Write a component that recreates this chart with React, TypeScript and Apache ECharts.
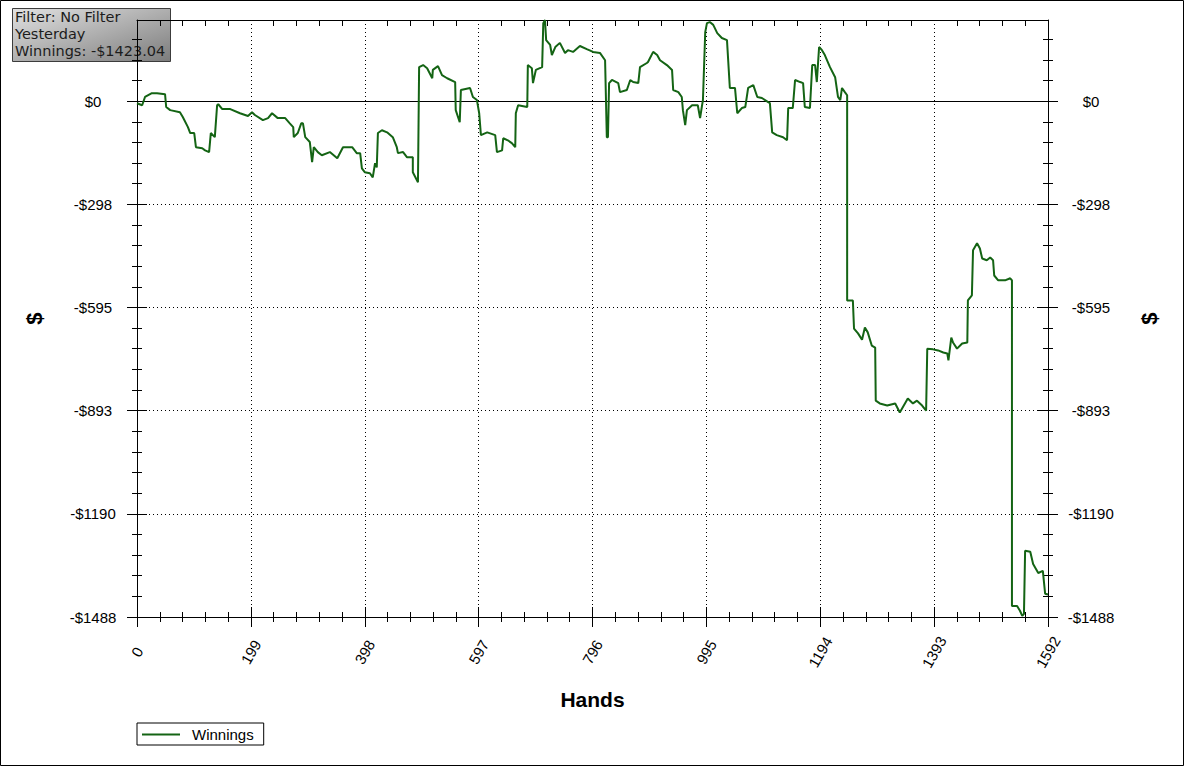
import React, { useEffect, useRef } from "react";
import * as echarts from "echarts";

// ---- Data ----
const infoLines = ["Filter: No Filter", "Yesterday", "Winnings: -$1423.04"];
const seriesName = "Winnings";
const xName = "Hands";
const yName = "$";

const X_MIN = 0;
const X_MAX = 1592;
const X_INTERVAL = 199;

const Y_MIN = -1488;
const Y_MAX = 234;
const Y_MINOR_STEP = 59.52;

const yMajorTicks = [-1488, -1190.4, -892.8, -595.2, -297.6, 0];
const yMinorTicks = Array.from({ length: 29 }, (_, k) => Math.round((Y_MIN + k * Y_MINOR_STEP) * 100) / 100);

// cumulative winnings: [hand, $]
const winnings: [number, number][] = [
  [0, -6], [9, -12], [14, 12], [26, 23], [35, 23], [49, 20], [51, -17], [58, -26], [75, -32], [80, -46],
  [89, -75], [93, -92], [100, -92], [103, -133], [114, -136], [119, -142], [126, -147], [129, -92], [136, -104], [140, -12],
  [142, -9], [149, -23], [163, -23], [180, -35], [194, -43], [201, -32], [206, -40], [220, -55], [229, -49], [236, -35],
  [246, -49], [259, -49], [267, -64], [273, -75], [274, -104], [281, -92], [287, -64], [290, -64], [294, -104], [302, -118],
  [306, -176], [309, -133], [316, -147], [323, -156], [337, -147], [350, -165], [360, -133], [376, -133], [384, -150], [390, -150],
  [393, -194], [398, -205], [407, -208], [412, -220], [416, -179], [419, -191], [421, -92], [428, -84], [437, -90], [447, -104],
  [454, -133], [456, -150], [465, -147], [472, -162], [482, -162], [482, -205], [491, -234], [493, 98], [500, 104], [507, 95],
  [516, 66], [517, 90], [526, 101], [533, 75], [542, 66], [556, 55], [557, -26], [564, -61], [566, 32], [582, 38],
  [587, 12], [594, 3], [598, -35], [601, -98], [612, -90], [626, -98], [629, -147], [638, -142], [640, -107], [648, -113],
  [655, -121], [661, -133], [662, -35], [666, -12], [682, -17], [683, 104], [690, 95], [692, 52], [697, 90], [708, 98],
  [710, 225], [713, 234], [715, 176], [722, 162], [725, 133], [731, 156], [739, 168], [748, 139], [753, 147], [762, 142],
  [774, 159], [786, 150], [797, 142], [809, 139], [818, 118], [821, -104], [823, -104], [825, 52], [830, 61], [841, 52],
  [844, 26], [856, 32], [862, 61], [867, 55], [876, 52], [879, 98], [891, 110], [893, 113], [902, 142], [909, 133],
  [914, 118], [926, 104], [935, 90], [937, 32], [946, 26], [952, 12], [954, -26], [958, -69], [961, -26], [970, -12],
  [980, -12], [984, -49], [987, -17], [989, 3], [993, 199], [996, 225], [1001, 228], [1007, 220], [1014, 196], [1022, 182],
  [1031, 176], [1036, 38], [1045, 38], [1049, -35], [1057, -20], [1063, -17], [1068, 38], [1077, 46], [1084, 12], [1092, 9],
  [1103, -3], [1106, -6], [1110, -90], [1118, -98], [1129, -104], [1136, -113], [1138, -20], [1146, -20], [1150, 61], [1159, 55],
  [1164, 52], [1167, -17], [1176, -20], [1180, 104], [1185, 104], [1188, 55], [1192, 156], [1197, 147], [1202, 133], [1211, 98],
  [1220, 69], [1225, 12], [1229, 3], [1232, 38], [1237, 26], [1241, 17], [1241, -575], [1251, -575], [1253, -656], [1260, -670],
  [1267, -688], [1272, -653], [1277, -667], [1284, -705], [1290, -711], [1291, -864], [1298, -872], [1311, -878], [1325, -872], [1333, -898],
  [1342, -872], [1347, -858], [1356, -872], [1363, -864], [1372, -878], [1379, -893], [1381, -714], [1391, -716], [1400, -719], [1409, -725],
  [1416, -728], [1418, -748], [1423, -682], [1426, -696], [1433, -714], [1442, -699], [1451, -696], [1452, -575], [1459, -560], [1461, -430],
  [1468, -410], [1473, -425], [1477, -454], [1485, -459], [1491, -451], [1496, -459], [1498, -503], [1505, -517], [1517, -517], [1526, -511],
  [1529, -517], [1529, -1456], [1538, -1456], [1543, -1470], [1547, -1485], [1550, -1479], [1552, -1297], [1561, -1300], [1566, -1335], [1575, -1361],
  [1583, -1355], [1587, -1421], [1592, -1423],
];

const FONT = "'Liberation Sans', Arial, sans-serif";
const LINE_GREEN = "#146414";

function fmtDollar(v: number): string {
  const r = Math.round(Math.abs(v));
  if (r === 0) return "$0";
  return (v < 0 ? "-$" : "$") + r;
}

function yAxisSet(position: "left" | "right") {
  const base = {
    type: "value" as const,
    position,
    min: Y_MIN,
    max: Y_MAX,
    offset: 0,
    splitLine: { show: false },
  };
  const main = {
    ...base,
    name: yName,
    nameLocation: "middle",
    nameGap: position === "left" ? 92 : 90,
    nameRotate: 90,
    nameTextStyle: { fontFamily: FONT, fontWeight: "bold", fontSize: 22, color: "#000" },
    axisLine: { show: true, lineStyle: { color: "#000", width: 1 } },
    axisTick: { show: true, inside: false, length: 10, customValues: yMajorTicks, lineStyle: { color: "#000", width: 1 } },
    axisLabel: {
      show: true,
      customValues: yMajorTicks,
      formatter: (v: number) => fmtDollar(v),
      margin: position === "left" ? 44 : 43,
      align: "center",
      fontFamily: FONT,
      fontSize: 15,
      color: "#000",
    },
    splitLine:
      position === "left"
        ? { show: true, lineStyle: { color: "#000", width: 1, type: [1, 3] } }
        : { show: false },
  };
  const tickOnly = (values: number[], inside: boolean, length: number) => ({
    ...base,
    axisLine: { show: false },
    axisLabel: { show: false },
    axisTick: { show: true, inside, length, customValues: values, lineStyle: { color: "#000", width: 1 } },
  });
  return [
    main,
    tickOnly(yMajorTicks, true, 10),
    tickOnly(yMinorTicks, false, 5),
    tickOnly(yMinorTicks, true, 5),
  ];
}

export default function App() {
  const ref = useRef<HTMLDivElement>(null);

  useEffect(() => {
    document.body.style.margin = "0";
    if (!ref.current) return;
    const chart = echarts.init(ref.current, null, { renderer: "svg" });

    const xBase = {
      type: "value" as const,
      min: X_MIN,
      max: X_MAX,
      interval: X_INTERVAL,
    };

    const option: any = {
      animation: false,
      backgroundColor: "#fff",
      grid: { left: 137, right: 137, top: 20, bottom: 150, containLabel: false },
      legend: {
        left: 137,
        top: 723,
        data: [seriesName],
        icon: "rect",
        itemWidth: 38,
        itemHeight: 2,
        padding: [4, 10, 3, 5],
        borderColor: "#000",
        borderWidth: 1,
        textStyle: { fontFamily: FONT, fontSize: 15, color: "#000", padding: [0, 0, 0, 7] },
      },
      xAxis: [
        {
          ...xBase,
          position: "bottom",
          name: xName,
          nameLocation: "middle",
          nameGap: 72,
          nameTextStyle: { fontFamily: FONT, fontWeight: "bold", fontSize: 21, color: "#000" },
          axisLine: { show: true, onZero: false, lineStyle: { color: "#000", width: 1 } },
          axisTick: { show: true, inside: false, length: 10, lineStyle: { color: "#000" } },
          minorTick: { show: true, splitNumber: 5, length: 5, lineStyle: { color: "#000" } },
          axisLabel: {
            show: true,
            rotate: 60,
            margin: 35,
            align: "center",
            verticalAlign: "middle",
            fontFamily: FONT,
            fontSize: 15,
            color: "#000",
            formatter: (v: number) => String(v),
          },
          splitLine: { show: true, lineStyle: { color: "#000", width: 1, type: [1, 3] } },
        },
        {
          ...xBase,
          position: "bottom",
          axisLine: { show: false, onZero: false },
          axisTick: { show: true, inside: true, length: 10, lineStyle: { color: "#000" } },
          minorTick: { show: true, splitNumber: 5, length: 5, lineStyle: { color: "#000" } },
          axisLabel: { show: false },
          splitLine: { show: false },
        },
        {
          ...xBase,
          position: "top",
          axisLine: { show: true, onZero: false, lineStyle: { color: "#000", width: 1 } },
          axisTick: { show: false, inside: true, length: 6 },
          minorTick: { show: true, splitNumber: 5, length: 6, lineStyle: { color: "#000" } },
          axisLabel: { show: false },
          splitLine: { show: false },
        },
      ],
      yAxis: [...yAxisSet("left"), ...yAxisSet("right")],
      series: [
        {
          name: seriesName,
          type: "line",
          xAxisIndex: 0,
          yAxisIndex: 0,
          data: winnings,
          showSymbol: false,
          symbol: "none",
          lineStyle: { color: LINE_GREEN, width: 2 },
          itemStyle: { color: LINE_GREEN },
          z: 3,
          markLine: {
            silent: true,
            symbol: ["none", "none"],
            label: { show: false },
            lineStyle: { color: "#000", type: "solid", width: 1 },
            data: [{ yAxis: 0 }],
            z: 2,
          },
        },
      ],
      graphic: [
        {
          type: "rect",
          z: 0,
          shape: { x: 0.5, y: 0.5, width: 1183, height: 765 },
          style: { fill: "none", stroke: "#000", lineWidth: 1 },
          silent: true,
        },
        {
          type: "group",
          left: 12,
          top: 8,
          z: 100,
          children: [
            {
              type: "rect",
              shape: { x: 0, y: 0, width: 158, height: 53 },
              style: {
                fill: {
                  type: "linear",
                  x: 0,
                  y: 0,
                  x2: 1,
                  y2: 1,
                  colorStops: [
                    { offset: 0, color: "#e2e2e2" },
                    { offset: 1, color: "#7c7c7c" },
                  ],
                },
                stroke: "#3c3c3c",
                lineWidth: 1,
              },
            },
            {
              type: "text",
              x: 2.5,
              y: 0,
              style: {
                text: infoLines.join("\n"),
                font: "14.5px 'DejaVu Sans', Verdana, sans-serif",
                fill: "#1c1c1c",
                lineHeight: 17,
              },
            },
          ],
        },
      ],
    };

    chart.setOption(option);
    return () => chart.dispose();
  }, []);

  return <div ref={ref} style={{ width: 1185, height: 767 }} />;
}
